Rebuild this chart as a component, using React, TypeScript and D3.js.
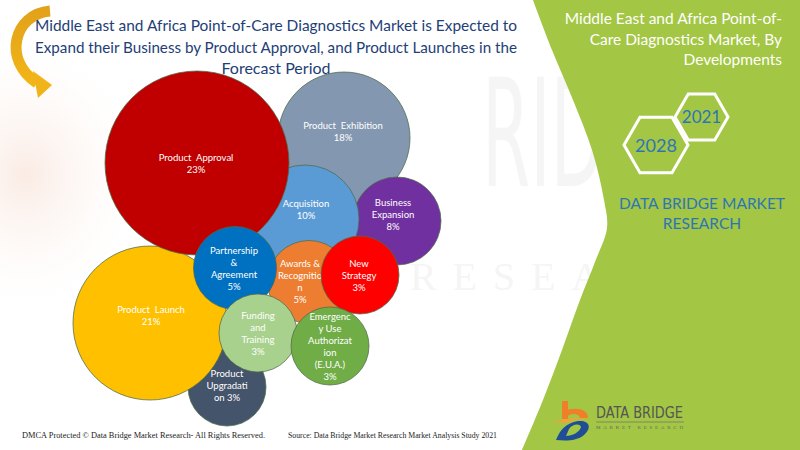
import React, { useEffect, useRef } from "react";
import * as d3 from "d3";

// ---------- data ----------
const categories = [
  "Product Approval",
  "Product Launch",
  "Product Exhibition",
  "Acquisition",
  "Business Expansion",
  "Partnership & Agreement",
  "Awards & Recognition",
  "New Strategy",
  "Funding and Training",
  "Emergency Use Authorization (E.U.A.)",
  "Product Upgradation",
];
const values = [23, 21, 18, 10, 8, 5, 5, 3, 3, 3, 3];
const labelLines = [
  ["Product  Approval", "23%"],
  ["Product  Launch", "21%"],
  ["Product  Exhibition", "18%"],
  ["Acquisition", "10%"],
  ["Business", "Expansion", "8%"],
  ["Partnership", "&", "Agreement", "5%"],
  ["Awards &", "Recognitio", "n", "5%"],
  ["New", "Strategy", "3%"],
  ["Funding", "and", "Training", "3%"],
  ["Emergenc", "y Use", "Authorizat", "ion", "(E.U.A.)", "3%"],
  ["Product", "Upgradati", "on 3%"],
];
// bubble layout in layout units
const layoutX = [137, 90, 284, 245, 337, 175, 249, 300, 198, 270, 167];
const layoutY = [103, 263, 78, 159, 161, 208, 222, 215, 273, 286, 327];
// label anchor in layout units
const labelX = [136, 91, 283, 246, 333, 174, 240, 299, 198, 270, 167];
const labelY = [104, 256, 72, 150, 155, 209, 222, 216, 274, 287, 326];
const drawOrder = [2, 4, 3, 10, 1, 0, 6, 5, 7, 8, 9];

const titleLines = [
  "Middle East and Africa Point-of-Care Diagnostics Market is Expected to",
  "Expand their Business by Product Approval, and Product Launches in the",
  "Forecast Period",
];
const sideTitleLines = [
  "Middle East and Africa Point-of-",
  "Care Diagnostics Market, By",
  "Developments",
];
const years = ["2021", "2028"];
const brandLines = ["DATA BRIDGE MARKET", "RESEARCH"];
const footerLeft = "DMCA Protected © Data Bridge Market Research- All Rights Reserved.";
const footerRight = "Source: Data Bridge Market Research Market Analysis Study 2021";

// ---------- styles ----------
const palette = [
  "#C00000",
  "#FFC000",
  "#8497B0",
  "#5B9BD5",
  "#7030A0",
  "#0070C0",
  "#ED7D31",
  "#FF0000",
  "#A9D18E",
  "#70AD47",
  "#44546A",
];
const GREEN = "#A3C644";
const NAVY = "#233E77";
const BLUE = "#2E75B6";
const FONT = "Lato, 'Open Sans', sans-serif";

const W = 800;
const H = 450;

export default function App() {
  const wmRef = useRef<SVGTextElement | null>(null);

  useEffect(() => {
    const el = wmRef.current;
    if (!el) return;
    const len = el.getComputedTextLength();
    const target = 122;
    const s = len > 0 ? target / len : 0.45;
    el.setAttribute("transform", `translate(482,186) scale(${s},1)`);
  }, []);

  const x = d3.scaleLinear().domain([0, 400]).range([60, 460]);
  const y = d3.scaleLinear().domain([0, 380]).range([60, 440]);
  const r = d3
    .scaleLinear()
    .domain([3, 5, 8, 10, 18, 21, 23])
    .range([39, 41.5, 44, 54, 66, 77, 92]);

  const panelPts: [number, number][] = [
    [533, 0],
    [552, 50],
    [573, 100],
    [592, 150],
    [604, 200],
    [607, 228],
    [595, 262],
    [580, 300],
    [562, 350],
    [543, 400],
    [522, 450],
  ];
  const panelLine = d3.line().curve(d3.curveCatmullRom)(panelPts) as string;
  const panelPath = `${panelLine} L800,450 L800,0 Z`;

  const hex = (cx: number, cy: number, R: number) =>
    d3
      .range(6)
      .map((i) => {
        const a = (Math.PI / 3) * i;
        return `${cx + R * Math.cos(a)},${cy + R * Math.sin(a)}`;
      })
      .join(" ");

  const lineH = 12;

  return (
    <svg
      width={W}
      height={H}
      viewBox={`0 0 ${W} ${H}`}
      style={{ display: "block", position: "absolute", left: 0, top: 0, background: "#fff" }}
    >
      <defs>
        <linearGradient id="arrowGrad" x1="0" y1="0" x2="0" y2="1">
          <stop offset="0%" stopColor="#E2A21A" />
          <stop offset="100%" stopColor="#F2B516" />
        </linearGradient>
        <radialGradient id="haze" cx="0.1" cy="0.45" r="0.5">
          <stop offset="0%" stopColor="#F6D7C8" stopOpacity="0.5" />
          <stop offset="100%" stopColor="#FFFFFF" stopOpacity="0" />
        </radialGradient>
      </defs>

      {/* background */}
      <rect x={0} y={0} width={W} height={H} fill="#fff" />
      <rect x={0} y={40} width={260} height={300} fill="url(#haze)" />

      {/* faint watermark */}
      <text
        ref={wmRef}
        x={0}
        y={0}
        transform="translate(482,186) scale(0.45,1)"
        fontFamily="'DejaVu Sans', 'Liberation Sans', sans-serif"
        fontSize={150}
        fill="#000"
        opacity={0.035}
      >
        RID
      </text>
      <text
        x={410}
        y={290}
        fontFamily="'Liberation Serif', serif"
        fontSize={40}
        textLength={320}
        lengthAdjust="spacing"
        fill="#000"
        opacity={0.035}
      >
        RESEARCH
      </text>

      {/* green side panel */}
      <path d={panelPath} fill={GREEN} />

      {/* curved arrow */}
      <path
        d="M50,11 C14,14 2,60 37,83"
        fill="none"
        stroke="url(#arrowGrad)"
        strokeWidth={11}
      />
      <polygon points="33,71 52,85 38,98" fill="#F0B31A" />

      {/* title */}
      {titleLines.map((t, i) => (
        <text
          key={i}
          x={276}
          y={31 + i * 21.5}
          textAnchor="middle"
          fontFamily={FONT}
          fontSize={16}
          fill={NAVY}
          {...(i < 2 ? { textLength: 482, lengthAdjust: "spacingAndGlyphs" } : {})}
        >
          {t}
        </text>
      ))}

      {/* bubbles */}
      {drawOrder.map((i) => {
        const cx = x(layoutX[i]);
        const cy = y(layoutY[i]);
        const lx = x(labelX[i]);
        const ly = y(labelY[i]);
        const lines = labelLines[i];
        const y0 = ly - ((lines.length - 1) * lineH) / 2;
        return (
          <g key={categories[i]}>
            <circle
              cx={cx}
              cy={cy}
              r={r(values[i])}
              fill={palette[i]}
              stroke="#4E6B4A"
              strokeOpacity={0.75}
              strokeWidth={1}
            />
            {lines.map((l, k) => (
              <text
                key={k}
                x={lx}
                y={y0 + k * lineH}
                dy="0.35em"
                textAnchor="middle"
                fontFamily={FONT}
                fontSize={9.5}
                fill="#fff"
                style={{ whiteSpace: "pre" }}
              >
                {l}
              </text>
            ))}
          </g>
        );
      })}

      {/* side panel text */}
      {sideTitleLines.map((t, i) => (
        <text
          key={i}
          x={782}
          y={24 + i * 20.5}
          textAnchor="end"
          fontFamily={FONT}
          fontSize={15.5}
          fill="#fff"
        >
          {t}
        </text>
      ))}

      <polygon points={hex(701.5, 117, 26.5)} fill="none" stroke="#fff" strokeWidth={3} />
      <polygon points={hex(656, 145, 32)} fill="none" stroke="#fff" strokeWidth={3} />
      <text x={701.5} y={117} dy="0.36em" textAnchor="middle" fontFamily={FONT} fontSize={17} fill={BLUE}>
        {years[0]}
      </text>
      <text x={656} y={146} dy="0.36em" textAnchor="middle" fontFamily={FONT} fontSize={18} fill={BLUE}>
        {years[1]}
      </text>

      {brandLines.map((t, i) => (
        <text
          key={i}
          x={702}
          y={209 + i * 20}
          textAnchor="middle"
          fontFamily={FONT}
          fontSize={15.5}
          fill={BLUE}
        >
          {t}
        </text>
      ))}

      {/* logo */}
      <g>
        <rect x={562} y={401} width={6} height={18} fill="#F07F2A" />
        <path d="M562,412 C572,407 588,407 588,418 L580,418 C579,413 571,413 566,417 Z" fill="#F07F2A" />
        <path d="M553,422 C565,418 585,417 590,420 C584,418 572,420 566,423 Z" fill="#F3A13D" />
        <path
          d="M556,440 C560,430 566,423 578,421 C590,420 592,428 584,435 C577,441 566,441 556,440 Z M566,436 C572,436 580,432 581,427 C580,423 572,424 569,429 Z"
          fill="#1F4E96"
          fillRule="evenodd"
        />
        <text
          x={596}
          y={418}
          fontFamily="'DejaVu Sans Condensed', 'Liberation Sans', sans-serif"
          fontSize={15}
          textLength={87}
          lengthAdjust="spacingAndGlyphs"
          fill="#555"
        >
          DATA BRIDGE
        </text>
        <line x1={596} x2={684} y1={422} y2={422} stroke="#777" strokeWidth={0.8} />
        <text
          x={596}
          y={429}
          fontFamily="'Liberation Serif', serif"
          fontSize={5}
          textLength={87}
          lengthAdjust="spacing"
          fill="#666"
        >
          MARKET RESEARCH
        </text>
      </g>

      {/* footer */}
      <text
        x={22}
        y={438}
        fontFamily="'Liberation Serif', 'Times New Roman', serif"
        fontSize={9}
        textLength={243}
        lengthAdjust="spacingAndGlyphs"
        fill="#222"
      >
        {footerLeft}
      </text>
      <text
        x={288}
        y={438}
        fontFamily="'Liberation Serif', 'Times New Roman', serif"
        fontSize={9}
        textLength={209}
        lengthAdjust="spacingAndGlyphs"
        fill="#222"
      >
        {footerRight}
      </text>
    </svg>
  );
}
